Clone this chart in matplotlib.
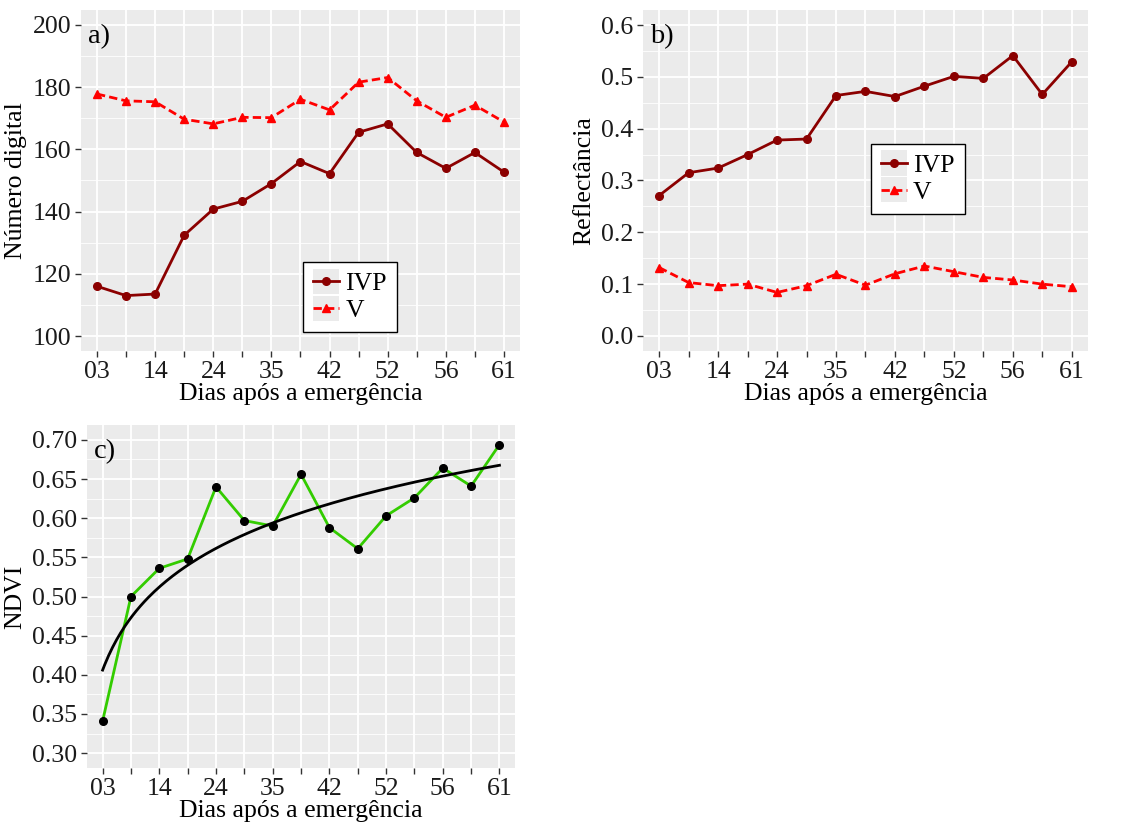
import numpy as np
import matplotlib
matplotlib.use("Agg")
import matplotlib.pyplot as plt
from matplotlib.legend_handler import HandlerLine2D
from matplotlib.patches import Rectangle
from matplotlib.ticker import MultipleLocator

plt.rcParams['font.family'] = ['Liberation Serif', 'DejaVu Serif']

# ---- data ----
days = ["03", "", "14", "", "24", "", "35", "", "42", "", "52", "", "56", "", "61"]

dn_ivp = [116.0, 113.0, 113.5, 132.4, 140.8, 143.3, 149.0, 156.1, 152.2, 165.5, 168.2, 159.0, 153.9, 159.0, 152.7]
dn_v = [177.8, 175.6, 175.3, 169.7, 168.2, 170.3, 170.2, 176.1, 172.7, 181.6, 183.1, 175.6, 170.3, 174.2, 168.8]

ref_ivp = [0.271, 0.315, 0.324, 0.350, 0.378, 0.380, 0.464, 0.472, 0.462, 0.482, 0.501, 0.497, 0.541, 0.466, 0.529]
ref_v = [0.132, 0.103, 0.097, 0.100, 0.084, 0.097, 0.119, 0.098, 0.120, 0.135, 0.124, 0.113, 0.108, 0.100, 0.095]

ndvi = [0.341, 0.500, 0.536, 0.548, 0.640, 0.597, 0.590, 0.656, 0.588, 0.561, 0.603, 0.626, 0.664, 0.641, 0.694]

labels = ["IVP", "V"]

FS = 18.5
BG = '#ebebeb'
C_IVP = '#8b0000'
C_V = '#ff0000'


class KeyHandler(HandlerLine2D):
    def create_artists(self, legend, orig_handle, xdescent, ydescent,
                       width, height, fontsize, trans):
        arts = super().create_artists(legend, orig_handle, xdescent, ydescent,
                                      width, height, fontsize, trans)
        rect = Rectangle((-xdescent, -ydescent - 0.2 * height), width, height * 1.4,
                         facecolor=BG, edgecolor='none', transform=trans)
        return [rect] + list(arts)


def style(ax, ylim, major, minor, fmt):
    ax.set_facecolor(BG)
    for s in ax.spines.values():
        s.set_visible(False)
    x = np.arange(len(days))
    ax.set_xticks(x)
    ax.set_xticklabels(days)
    ax.set_xlim(-0.55, len(days) - 1 + 0.55)
    ax.set_ylim(*ylim)
    ax.yaxis.set_major_locator(MultipleLocator(major))
    ax.yaxis.set_minor_locator(MultipleLocator(minor))
    ax.yaxis.set_major_formatter(matplotlib.ticker.FormatStrFormatter(fmt))
    ax.grid(which='major', color='white', lw=1.3)
    ax.grid(which='minor', axis='y', color='white', lw=0.6)
    ax.tick_params(which='minor', length=0)
    ax.tick_params(which='major', length=4, color='#333333', width=1,
                   labelsize=FS, labelcolor='#1a1a1a', pad=3)
    ax.set_axisbelow(True)
    ax.set_xlabel("Dias após a emergência", fontsize=FS, labelpad=0)


def add_legend(ax, handles, anchor):
    leg = ax.legend(handles=handles, loc='upper left', bbox_to_anchor=anchor,
                    fontsize=FS, frameon=True, fancybox=False, edgecolor='black',
                    facecolor='white', framealpha=1, handlelength=1.0, handletextpad=0.25,
                    borderpad=0.4, labelspacing=0.15, borderaxespad=0,
                    handler_map={matplotlib.lines.Line2D: KeyHandler()})
    leg.get_frame().set_linewidth(1.0)
    return leg


fig = plt.figure(figsize=(11.36, 8.27), dpi=100)

x = np.arange(len(days))

# a)
axa = fig.add_axes([0.0713, 0.5756, 0.3864, 0.4123])
style(axa, (95.2, 204.8), 20, 10, '%d')
la, = axa.plot(x, dn_ivp, color=C_IVP, lw=2.0, marker='o', ms=5.5, label=labels[0])
lb, = axa.plot(x, dn_v, color=C_V, lw=2.0, ls=(0, (3, 1.5)), marker='^', ms=6, label=labels[1])
axa.set_ylabel("Número digital", fontsize=FS, labelpad=4)
axa.text(0.015, 0.96, "a)", transform=axa.transAxes, fontsize=FS + 2, va='top', ha='left')
add_legend(axa, [la, lb], (0.506, 0.261))

# b)
axb = fig.add_axes([0.566, 0.5756, 0.3917, 0.4123])
style(axb, (-0.029, 0.629), 0.1, 0.05, '%.1f')
la, = axb.plot(x, ref_ivp, color=C_IVP, lw=2.0, marker='o', ms=5.5, label=labels[0])
lb, = axb.plot(x, ref_v, color=C_V, lw=2.0, ls=(0, (3, 1.5)), marker='^', ms=6, label=labels[1])
axb.set_ylabel("Reflectância", fontsize=FS, labelpad=4)
axb.text(0.015, 0.96, "b)", transform=axb.transAxes, fontsize=FS + 2, va='top', ha='left')
add_legend(axb, [la, lb], (0.512, 0.608))

# c)
axc = fig.add_axes([0.0766, 0.0713, 0.3768, 0.4148])
style(axc, (0.281, 0.719), 0.05, 0.025, '%.2f')
lx = np.log(x + 1)
b, a = np.polyfit(lx, ndvi, 1)
xs = np.linspace(0, len(days) - 1, 200)
axc.plot(x, ndvi, color='#33cc00', lw=2.0, zorder=2)
axc.plot(xs, a + b * np.log(xs + 1), color='black', lw=2.0, zorder=3)
axc.plot(x, ndvi, ls='none', marker='o', ms=5.5, color='black', zorder=4)
axc.set_ylabel("NDVI", fontsize=FS, labelpad=4)
axc.text(0.015, 0.96, "c)", transform=axc.transAxes, fontsize=FS + 2, va='top', ha='left')

fig.savefig("out.png", dpi=100, facecolor='white')
